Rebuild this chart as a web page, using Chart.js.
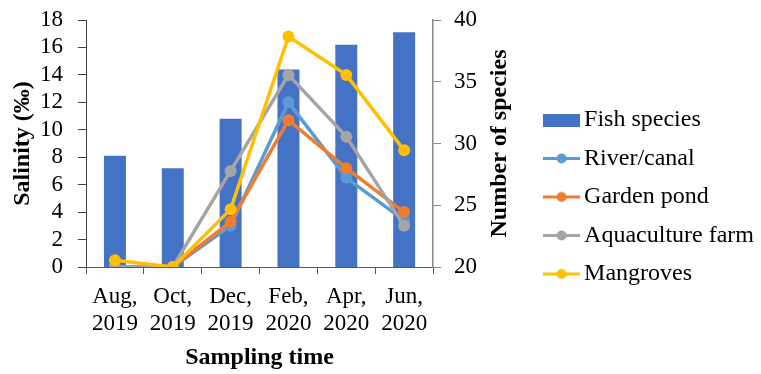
<!DOCTYPE html>
<html>
<head>
<meta charset="utf-8">
<script src="https://cdn.jsdelivr.net/npm/chart.js@4/dist/chart.umd.min.js"></script>
<style>
  html, body { margin: 0; padding: 0; background: #ffffff; }
  #wrap { width: 761px; height: 374px; }
</style>
</head>
<body>
<div id="wrap"><canvas id="chart" width="761" height="374"></canvas></div>
<script>
// Sampling periods (two-line tick labels)
const samplingTimes = [
  ['Aug,', '2019'], ['Oct,', '2019'], ['Dec,', '2019'],
  ['Feb,', '2020'], ['Apr,', '2020'], ['Jun,', '2020']
];

// Number of fish species per sampling (right axis)
const fishSpecies = [29, 28, 32, 36, 38, 39];

// Salinity (‰) per habitat (left axis)
const riverCanal      = [0, 0, 3.0, 12.0, 6.5, 3.4];
const gardenPond      = [0, 0, 3.3, 10.7, 7.2, 4.0];
const aquacultureFarm = [0, 0, 7.0, 14.0, 9.5, 3.0];
const mangroves       = [0.5, 0, 4.2, 16.8, 14.0, 8.5];

const salinityTicks = [0, 18, 2];
const speciesTicks  = [20, 40, 5];
const speciesTitle  = 'Number of species';

const FONT = "'Liberation Serif', 'Times New Roman', serif";
const TICK_SIZE = 23;
const TITLE_SIZE = 24;
const COLORS = {
  bar: '#4472C4',
  river: '#5B9BD5',
  garden: '#ED7D31',
  aqua: '#A5A5A5',
  mangrove: '#FFC000'
};

// Legend markers: a filled box for the bars, a short line with a dot for each line series
function boxMarker(color) {
  const c = document.createElement('canvas');
  c.width = 37; c.height = 13;
  const g = c.getContext('2d');
  g.fillStyle = color;
  g.fillRect(0, 0, 37, 13);
  return c;
}
function lineMarker(color) {
  const c = document.createElement('canvas');
  c.width = 37; c.height = 13;
  const g = c.getContext('2d');
  g.strokeStyle = color;
  g.lineWidth = 3;
  g.beginPath(); g.moveTo(0, 6.5); g.lineTo(37, 6.5); g.stroke();
  g.fillStyle = color;
  g.beginPath(); g.arc(18.5, 6.5, 5, 0, Math.PI * 2); g.fill();
  return c;
}

function lineSeries(label, data, color, order) {
  return {
    type: 'line',
    label: label,
    data: data,
    yAxisID: 'y',
    borderColor: color,
    backgroundColor: color,
    borderWidth: 3.5,
    pointRadius: 6,
    pointHoverRadius: 6,
    pointBorderWidth: 0,
    pointBackgroundColor: color,
    tension: 0,
    order: order,
    marker: lineMarker(color)
  };
}

const datasets = [
  {
    type: 'bar',
    label: 'Fish species',
    data: fishSpecies,
    yAxisID: 'y1',
    backgroundColor: COLORS.bar,
    borderWidth: 0,
    barPercentage: 0.38,
    categoryPercentage: 1.0,
    order: 10,
    marker: boxMarker(COLORS.bar)
  },
  lineSeries('River/canal', riverCanal, COLORS.river, 4),
  lineSeries('Garden pond', gardenPond, COLORS.garden, 3),
  lineSeries('Aquaculture farm', aquacultureFarm, COLORS.aqua, 2),
  lineSeries('Mangroves', mangroves, COLORS.mangrove, 1)
];

// Right-axis title, written bottom-to-top beside the species ticks
const rightTitlePlugin = {
  id: 'rightTitle',
  afterDraw(chart) {
    const s = chart.scales.y1;
    const ctx = chart.ctx;
    ctx.save();
    ctx.font = 'bold ' + TITLE_SIZE + 'px ' + FONT;
    ctx.fillStyle = '#000000';
    ctx.textAlign = 'center';
    ctx.textBaseline = 'middle';
    ctx.translate(s.left + 67, (s.top + s.bottom) / 2);
    ctx.rotate(-Math.PI / 2);
    ctx.fillText(speciesTitle, 0, 0);
    ctx.restore();
  }
};

// Fixed axis widths; the top/bottom tick-label overflow is left to the layout padding
function fixVertical(width) {
  return (scale) => {
    scale.width = width;
    scale.paddingTop = 0;
    scale.paddingBottom = 0;
  };
}

new Chart(document.getElementById('chart'), {
  data: { labels: samplingTimes, datasets: datasets },
  plugins: [rightTitlePlugin],
  options: {
    responsive: false,
    devicePixelRatio: 1,
    animation: false,
    events: [],
    layout: { padding: { top: 20, right: -3, bottom: 0, left: 0 } },
    plugins: {
      tooltip: { enabled: false },
      legend: {
        position: 'right',
        align: 'center',
        maxWidth: 260,
        labels: {
          font: { family: FONT, size: 24 },
          color: '#000000',
          usePointStyle: true,
          pointStyleWidth: 21,
          boxHeight: 13,
          padding: 14.5,
          generateLabels: (chart) => chart.data.datasets.map((ds, i) => ({
            text: ds.label,
            pointStyle: ds.marker,
            fillStyle: ds.backgroundColor,
            strokeStyle: ds.backgroundColor,
            lineWidth: 0,
            hidden: false,
            datasetIndex: i
          }))
        }
      }
    },
    scales: {
      x: {
        type: 'category',
        offset: true,
        border: { display: true, color: '#595959', width: 1 },
        grid: {
          offset: true,
          drawOnChartArea: false,
          drawTicks: true,
          tickLength: 7,
          tickColor: '#595959'
        },
        ticks: {
          font: { family: FONT, size: TICK_SIZE },
          color: '#000000',
          padding: 9,
          maxRotation: 0,
          autoSkip: false
        },
        title: {
          display: true,
          text: 'Sampling time',
          font: { family: FONT, size: TITLE_SIZE, weight: 'bold' },
          color: '#000000',
          padding: { top: 0, bottom: 1.5 }
        },
        afterFit: (scale) => { scale.height = 107; }
      },
      y: {
        type: 'linear',
        position: 'left',
        min: salinityTicks[0],
        max: salinityTicks[1],
        border: { display: true, color: '#404040', width: 1 },
        grid: {
          drawOnChartArea: false,
          drawTicks: true,
          tickLength: 8,
          tickColor: '#404040'
        },
        ticks: {
          stepSize: salinityTicks[2],
          autoSkip: false,
          font: { family: FONT, size: TICK_SIZE },
          color: '#000000',
          padding: 15
        },
        title: {
          display: true,
          text: 'Salinity (‰)',
          font: { family: FONT, size: TITLE_SIZE, weight: 'bold' },
          color: '#000000',
          padding: { top: 8.5, bottom: 0 }
        },
        afterFit: fixVertical(86)
      },
      y1: {
        type: 'linear',
        position: 'right',
        min: speciesTicks[0],
        max: speciesTicks[1],
        border: { display: true, color: '#868686', width: 1.5 },
        grid: {
          drawOnChartArea: false,
          drawTicks: true,
          tickLength: 8,
          tickColor: '#868686'
        },
        ticks: {
          stepSize: speciesTicks[2],
          autoSkip: false,
          font: { family: FONT, size: TICK_SIZE },
          color: '#000000',
          padding: 13
        },
        title: { display: false },
        afterFit: fixVertical(103.5)
      }
    }
  }
});
</script>
</body>
</html>
